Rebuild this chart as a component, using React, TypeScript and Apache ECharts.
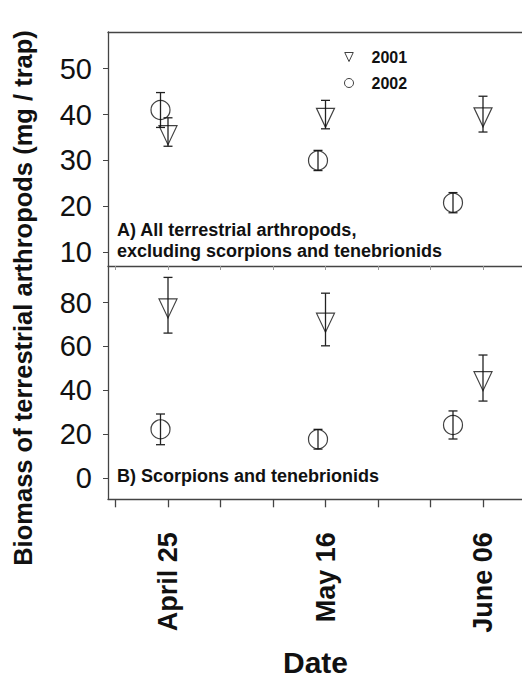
import React, { useEffect, useRef } from "react";
import * as echarts from "echarts";

// Days relative to April 25 (2001 sampling dates)
const tickDays = [-7, 0, 7, 14, 21, 28, 35, 42];
const labelDays = [0, 21, 42];
const tickLabels = ["April 25", "May 16", "June 06"];

const days2001 = [0, 21, 42];
const days2002 = [-1, 20, 38];

// Panel A: all terrestrial arthropods excl. scorpions & tenebrionids
const a2001Mean = [36.2, 40.0, 40.1];
const a2001Err = [3.1, 3.1, 3.9];
const a2002Mean = [41.0, 30.0, 20.8];
const a2002Err = [3.8, 2.2, 2.2];

// Panel B: scorpions and tenebrionids
const b2001Mean = [78.8, 72.3, 45.6];
const b2001Err = [12.7, 12.0, 10.5];
const b2002Mean = [22.2, 17.7, 24.2];
const b2002Err = [7.0, 4.5, 6.4];

const yTicksA = [10, 20, 30, 40, 50];
const yTicksB = [0, 20, 40, 60, 80];

const FONT = "'Liberation Sans', Arial, Helvetica, sans-serif";
const TRI_DOWN = "path://M0,0 L18,0 L9,19 Z";
const AXIS_COLOR = "#444";

const pts = (days: number[], mean: number[]) => days.map((d, i) => [d, mean[i]]);
const bars = (days: number[], mean: number[], err: number[]) =>
  days.map((d, i) => [d, mean[i] - err[i], mean[i] + err[i]]);

const errorRender = (params: any, api: any) => {
  const x = api.value(0);
  const p1 = api.coord([x, api.value(1)]);
  const p2 = api.coord([x, api.value(2)]);
  const w = 4.5;
  const style = { stroke: "#222", lineWidth: 1.3 };
  return {
    type: "group",
    children: [
      { type: "line", shape: { x1: p1[0], y1: p1[1], x2: p2[0], y2: p2[1] }, style },
      { type: "line", shape: { x1: p1[0] - w, y1: p1[1], x2: p1[0] + w, y2: p1[1] }, style },
      { type: "line", shape: { x1: p2[0] - w, y1: p2[1], x2: p2[0] + w, y2: p2[1] }, style },
    ],
  };
};

const markerStyle = { color: "transparent", borderColor: "#111", borderWidth: 1.2 };

export default function App() {
  const ref = useRef<HTMLDivElement>(null);
  useEffect(() => {
    if (!ref.current) return;
    const chart = echarts.init(ref.current, null, { renderer: "svg" });
    const xBase = (gridIndex: number) => ({
      type: "value",
      gridIndex,
      min: -8,
      max: 47.6,
      splitLine: { show: false },
      axisLine: { show: true, onZero: false, lineStyle: { color: AXIS_COLOR, width: 1.3 } },
    });
    const yBase = (gridIndex: number, min: number, max: number, ticks: number[]) => ({
      type: "value",
      gridIndex,
      position: "left",
      offset: 0,
      min,
      max,
      splitLine: { show: false },
      axisLine: { show: true, onZero: false, lineStyle: { color: AXIS_COLOR, width: 1.3 } },
      axisTick: { show: true, customValues: ticks, length: 5, lineStyle: { color: AXIS_COLOR } },
      axisLabel: {
        customValues: ticks,
        fontFamily: FONT,
        fontSize: 29,
        color: "#111",
        margin: 16,
      },
    });
    chart.setOption({
      animation: false,
      backgroundColor: "#fff",
      textStyle: { fontFamily: FONT },
      title: [
        {
          text: "A) All terrestrial arthropods,\nexcluding scorpions and tenebrionids",
          left: 117,
          top: 219,
          padding: 0,
          textStyle: { fontFamily: FONT, fontSize: 18, fontWeight: "bold", color: "#111", lineHeight: 21 },
        },
        {
          text: "B) Scorpions and tenebrionids",
          left: 117,
          top: 465,
          padding: 0,
          textStyle: { fontFamily: FONT, fontSize: 18, fontWeight: "bold", color: "#111", lineHeight: 21 },
        },
      ],
      legend: {
        orient: "vertical",
        left: 344,
        top: 49,
        padding: 0,
        itemWidth: 9,
        itemHeight: 9,
        itemGap: 10,
        itemStyle: { color: "transparent", borderColor: "#111", borderWidth: 1 },
        textStyle: { fontFamily: FONT, fontSize: 16, fontWeight: "bold", color: "#111", padding: [0, 0, 0, 13] },
        data: [
          { name: "2001" },
          { name: "2002", textStyle: { padding: [10, 0, 0, 13] } },
        ],
      },
      grid: [
        { left: 108, right: -3, top: 32, height: 234, outerBoundsMode: "none", containLabel: false },
        { left: 108, right: -3, top: 266, height: 233.3, outerBoundsMode: "none", containLabel: false },
      ],
      xAxis: [
        {
          ...xBase(0),
          axisTick: { show: true, customValues: tickDays, length: 4, lineStyle: { color: "#999" } },
          axisLabel: { show: false },
        },
        {
          ...xBase(1),
          axisTick: { show: true, customValues: tickDays, length: 8, lineStyle: { color: AXIS_COLOR, width: 1.3 } },
          axisLabel: {
            customValues: labelDays,
            rotate: 90,
            margin: 33,
            fontFamily: FONT,
            fontSize: 27,
            fontWeight: "bold",
            color: "#111",
            formatter: (v: number) => tickLabels[labelDays.indexOf(v)] ?? "",
          },
        },
        {
          ...xBase(0),
          position: "top",
          axisTick: { show: false },
          axisLabel: { show: false },
        },
      ],
      yAxis: [yBase(0, 7, 58, yTicksA), yBase(1, -9.7, 96.7, yTicksB)],
      graphic: [
        {
          type: "text",
          x: 23,
          y: 298,
          rotation: Math.PI / 2,
          style: {
            text: "Biomass of terrestrial arthropods (mg / trap)",
            fontFamily: FONT,
            fontSize: 25.5,
            fontWeight: "bold",
            fill: "#111",
            align: "center",
            verticalAlign: "middle",
          },
        },
        {
          type: "text",
          x: 315.5,
          y: 662,
          style: {
            text: "Date",
            fontFamily: FONT,
            fontSize: 30,
            fontWeight: "bold",
            fill: "#111",
            align: "center",
            verticalAlign: "middle",
          },
        },
      ],
      series: [
        {
          name: "errA2001",
          type: "custom",
          xAxisIndex: 0,
          yAxisIndex: 0,
          renderItem: errorRender,
          encode: { x: 0, y: [1, 2] },
          data: bars(days2001, a2001Mean, a2001Err),
          z: 1,
        },
        {
          name: "errA2002",
          type: "custom",
          xAxisIndex: 0,
          yAxisIndex: 0,
          renderItem: errorRender,
          encode: { x: 0, y: [1, 2] },
          data: bars(days2002, a2002Mean, a2002Err),
          z: 1,
        },
        {
          name: "errB2001",
          type: "custom",
          xAxisIndex: 1,
          yAxisIndex: 1,
          renderItem: errorRender,
          encode: { x: 0, y: [1, 2] },
          data: bars(days2001, b2001Mean, b2001Err),
          z: 1,
        },
        {
          name: "errB2002",
          type: "custom",
          xAxisIndex: 1,
          yAxisIndex: 1,
          renderItem: errorRender,
          encode: { x: 0, y: [1, 2] },
          data: bars(days2002, b2002Mean, b2002Err),
          z: 1,
        },
        {
          name: "2001",
          type: "scatter",
          xAxisIndex: 0,
          yAxisIndex: 0,
          symbol: TRI_DOWN,
          symbolSize: [18, 19],
          symbolOffset: [0, "16.7%"],
          itemStyle: markerStyle,
          data: pts(days2001, a2001Mean),
          z: 2,
        },
        {
          name: "2002",
          type: "scatter",
          xAxisIndex: 0,
          yAxisIndex: 0,
          symbol: "circle",
          symbolSize: 19,
          itemStyle: markerStyle,
          data: pts(days2002, a2002Mean),
          z: 2,
        },
        {
          name: "2001",
          type: "scatter",
          xAxisIndex: 1,
          yAxisIndex: 1,
          symbol: TRI_DOWN,
          symbolSize: [18, 19],
          symbolOffset: [0, "16.7%"],
          itemStyle: markerStyle,
          data: pts(days2001, b2001Mean),
          z: 2,
        },
        {
          name: "2002",
          type: "scatter",
          xAxisIndex: 1,
          yAxisIndex: 1,
          symbol: "circle",
          symbolSize: 19,
          itemStyle: markerStyle,
          data: pts(days2002, b2002Mean),
          z: 2,
        },
      ],
    });
    return () => chart.dispose();
  }, []);
  return (
    <div
      ref={ref}
      style={{ position: "absolute", left: 0, top: 0, width: 522, height: 678, background: "#fff" }}
    />
  );
}
